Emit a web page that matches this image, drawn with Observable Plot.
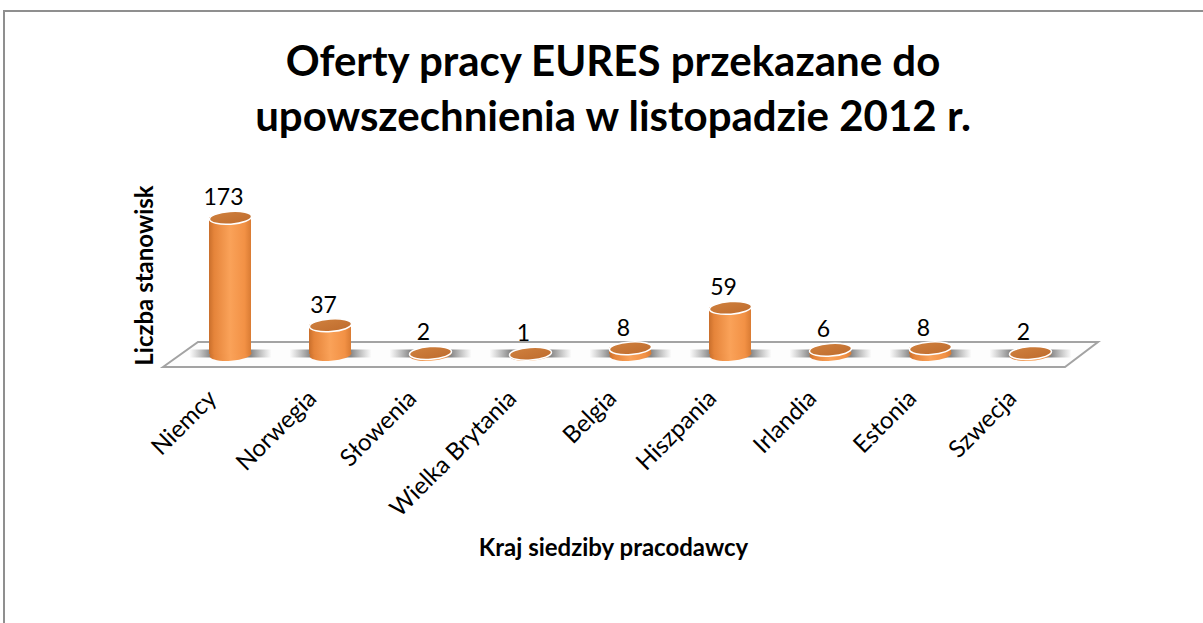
<!DOCTYPE html>
<html>
<head>
<meta charset="utf-8">
<script src="https://cdn.jsdelivr.net/npm/d3@7"></script>
<script src="https://cdn.jsdelivr.net/npm/@observablehq/plot@0.6"></script>
<style>
  html, body { margin: 0; padding: 0; background: #fff; overflow: hidden; width: 1203px; height: 623px; }
  body { font-family: Lato, "Open Sans", sans-serif; position: relative; }
  #frame { position: absolute; left: 3px; top: 10px; width: 1400px; height: 800px;
           border-left: 2px solid #8f8f8f; border-top: 2px solid #8f8f8f; box-sizing: border-box; }
  #title { position: absolute; left: 0; top: 33px; width: 1226px; text-align: center;
           font: bold 42px/55px Lato, sans-serif; color: #000; z-index: 2; }
  #chart { position: absolute; left: 0; top: 0; z-index: 1; }
  g[aria-label="shadow"] { filter: blur(1.5px); }
</style>
</head>
<body>
<div id="frame"></div>
<svg width="0" height="0" style="position:absolute">
  <defs>
    <linearGradient id="bodyGrad" x1="0" x2="1" y1="0" y2="0">
      <stop offset="0" stop-color="#c96f2c"/>
      <stop offset="0.12" stop-color="#e5843a"/>
      <stop offset="0.5" stop-color="#faa259"/>
      <stop offset="0.85" stop-color="#f29145"/>
      <stop offset="1" stop-color="#d97b33"/>
    </linearGradient>
    <linearGradient id="topGrad" x1="0" x2="1" y1="0" y2="1">
      <stop offset="0" stop-color="#d1823f"/>
      <stop offset="1" stop-color="#bd6a2c"/>
    </linearGradient>
    <linearGradient id="shadowGrad" x1="0" x2="1" y1="0" y2="0">
      <stop offset="0" stop-color="#8a8a8a" stop-opacity="0"/>
      <stop offset="0.25" stop-color="#7a7a7a" stop-opacity="0.9"/>
      <stop offset="0.5" stop-color="#6e6e6e" stop-opacity="0.95"/>
      <stop offset="0.75" stop-color="#7a7a7a" stop-opacity="0.9"/>
      <stop offset="1" stop-color="#8a8a8a" stop-opacity="0"/>
    </linearGradient>
  </defs>
</svg>
<div id="title"></div>
<div id="chart"></div>
<script>
// ---- data ----
const countries = ["Niemcy", "Norwegia", "Słowenia", "Wielka Brytania", "Belgia", "Hiszpania", "Irlandia", "Estonia", "Szwecja"];
const offers = [173, 37, 2, 1, 8, 59, 6, 8, 2];
const titleLines = ["Oferty pracy EURES przekazane do", "upowszechnienia w listopadzie 2012 r."];
const yTitle = "Liczba stanowisk";
const xTitle = "Kraj siedziby pracodawcy";

const data = countries.map((c, i) => ({country: c, value: offers[i]}));

document.getElementById("title").innerHTML = titleLines.map(t => `<div>${t}</div>`).join("");

// ellipse symbol (size = pi r^2), slightly tilted like Excel's 3D perspective
function ellipseSymbol(ratio, tiltDeg) {
  return {
    draw(ctx, size) {
      const rx = Math.sqrt(size / Math.PI), ry = rx * ratio;
      const a = tiltDeg * Math.PI / 180, c = Math.cos(a), s = Math.sin(a);
      const k = 0.5522847498;
      const P = ([x, y]) => [x * c - y * s, x * s + y * c];
      const pts = [[rx,0],[rx,k*ry],[k*rx,ry],[0,ry],[-k*rx,ry],[-rx,k*ry],[-rx,0],
                   [-rx,-k*ry],[-k*rx,-ry],[0,-ry],[k*rx,-ry],[rx,-k*ry],[rx,0]].map(P);
      ctx.moveTo(...pts[0]);
      for (let i = 1; i < pts.length; i += 3) ctx.bezierCurveTo(...pts[i], ...pts[i+1], ...pts[i+2]);
      ctx.closePath();
    }
  };
}
const shadowSymbol = {
  draw(ctx, size) {
    const r = Math.sqrt(size / Math.PI);
    ctx.rect(-1.95 * r, -4, 3.9 * r, 8);
  }
};

// floor plate (decoration derived from the plot frame and y scale)
function floor(index, scales, values, dim) {
  const y0 = scales.y(0);
  const xl = dim.marginLeft, xr = dim.width - dim.marginRight;
  const fl = xl - 16, fr = xr - 16, bl = fl + 35, br = fr + 33;
  const yb = y0 - 12, yf = y0 + 13;
  const g = d3.create("svg:g");
  g.append("path")
    .attr("d", `M${fl},${yf}L${bl},${yb}L${br},${yb}L${fr},${yf}Z`)
    .attr("fill", "#fdfdfd")
    .attr("stroke", "#a3a3a3")
    .attr("stroke-width", 2);
  return g.node();
}

const bodyR = 21.05;

const plot = Plot.plot({
  width: 1203,
  height: 623,
  marginLeft: 179,
  marginRight: 122,
  marginTop: 196,
  marginBottom: 269,
  style: {fontFamily: "Lato, sans-serif", background: "transparent", color: "#000"},
  x: {type: "band", domain: countries, paddingInner: 0.58, paddingOuter: 0.29},
  y: {domain: [0, 200], axis: null},
  marks: [
    floor,
    Plot.dot(data, {x: "country", y: 0, r: bodyR, symbol: shadowSymbol, fill: "url(#shadowGrad)", stroke: null, dy: -1, ariaLabel: "shadow"}),
    Plot.dot(data, {x: "country", y: 0, r: bodyR, symbol: ellipseSymbol(0.3, -4), fill: "url(#bodyGrad)", stroke: null}),
    Plot.barY(data, {x: "country", y: "value", fill: "url(#bodyGrad)"}),
    Plot.dot(data, {x: "country", y: "value", r: bodyR, symbol: ellipseSymbol(0.3, -4), fill: "url(#topGrad)", stroke: "white", strokeWidth: 1.5}),
    Plot.text(data, {x: "country", y: "value", text: d => String(d.value), dy: -20, dx: -7, fontSize: 23, fill: "#000"}),
    Plot.axisX({tickSize: 0, tickRotate: -45, fontSize: 24, tickPadding: 40, dx: -18, label: null}),
    Plot.text([yTitle], {frameAnchor: "left", rotate: -90, dx: -34, fontSize: 24, fontWeight: "bold", textAnchor: "middle", lineAnchor: "middle"}),
    Plot.text([xTitle], {frameAnchor: "bottom", dy: 194, dx: -17, fontSize: 24, fontWeight: "bold", lineAnchor: "middle"})
  ]
});
document.getElementById("chart").appendChild(plot);
</script>
</body>
</html>
